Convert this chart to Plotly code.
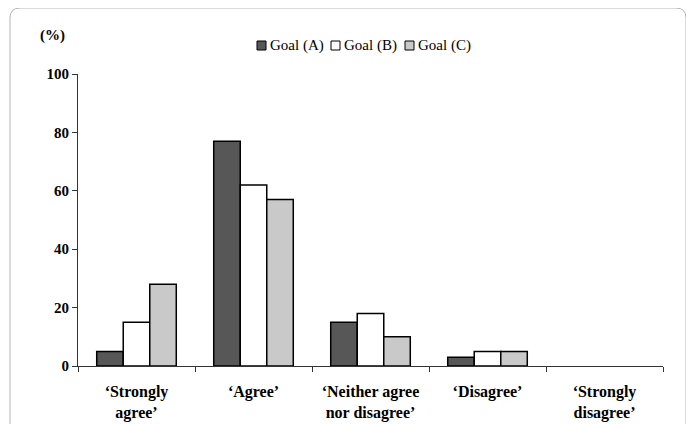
import plotly.graph_objects as go

categories = ["‘Strongly<br>agree’", "‘Agree’", "‘Neither agree<br>nor disagree’", "‘Disagree’", "‘Strongly<br>disagree’"]
series_names = ["Goal (A)", "Goal (B)", "Goal (C)"]
goal_a = [5, 77, 15, 3, 0]
goal_b = [15, 62, 18, 5, 0]
goal_c = [28, 57, 10, 5, 0]
y_ticks = [0, 20, 40, 60, 80, 100]

colors = ["#575757", "#ffffff", "#c9c9c9"]
FONT = "Liberation Serif"

# page offset (body margin) compensation
OX, OY = 8, 8
W, H = 694, 424
# plot area in window pixels
PX0, PX1, PY0, PY1 = 78, 663, 74, 366
L, R = PX0 - OX, W - (PX1 - OX)
T, B = PY0 - OY, H - (PY1 - OY)
PW, PH = PX1 - PX0, PY1 - PY0


def px(x):
    return (x - PX0) / PW


def py(y):
    return (PY1 - y) / PH


fig = go.Figure()
for name, vals, col in zip(series_names, [goal_a, goal_b, goal_c], colors):
    fig.add_trace(go.Bar(x=categories, y=vals, name=name, showlegend=False,
                         marker=dict(color=col, line=dict(color="#000000",
                                     width=[1.5 if v > 0 else 0 for v in vals]))))

fig.update_layout(
    width=W, height=H,
    margin=dict(l=L, r=R, t=T, b=B, autoexpand=False),
    paper_bgcolor="white", plot_bgcolor="white",
    barmode="group", bargap=0.32, bargroupgap=0,
    font=dict(family=FONT, color="#000000"),
    showlegend=False,
    xaxis=dict(showline=True, linecolor="#333333", linewidth=1, ticks="outside",
               tickson="boundaries", ticklen=5, tickcolor="#333333", automargin=False,
               ticklabelstandoff=11,
               tickvals=categories, ticktext=["<b>" + c + "</b>" for c in categories],
               tickfont=dict(family=FONT, size=16, color="#000000"), showgrid=False),
    yaxis=dict(range=[0, 100], tickvals=y_ticks, ticktext=["<b>%d</b>" % v for v in y_ticks],
               showline=True, linecolor="#333333", automargin=False,
               linewidth=1, ticks="outside", ticklen=5, tickcolor="#333333",
               tickfont=dict(family=FONT, size=15, color="#000000"), showgrid=False,
               zeroline=False),
)

fig.add_annotation(text="<b>(%)</b>", xref="paper", yref="paper", x=px(67), y=py(35),
                   xanchor="right", yanchor="middle", showarrow=False,
                   font=dict(family=FONT, size=15, color="#000000"))

# manual legend (small square swatches next to text)
sw_x = [257, 331, 405]
for name, col, sx in zip(series_names, colors, sw_x):
    fig.add_shape(type="rect", xref="paper", yref="paper",
                  x0=px(sx), x1=px(sx + 9), y0=py(50), y1=py(41),
                  fillcolor=col, line=dict(color="#000000", width=1))
    fig.add_annotation(text=name, xref="paper", yref="paper", x=px(sx + 11), y=py(45.5),
                       xanchor="left", yanchor="middle", showarrow=False,
                       font=dict(family=FONT, size=15, color="#000000"))

# rounded frame around the figure
x0, x1 = px(10), px(686)
y0, y1 = py(440), py(8)
rx, ry = 10 / PW, 10 / PH
path = (f"M {x0+rx},{y1} L {x1-rx},{y1} Q {x1},{y1} {x1},{y1-ry} "
        f"L {x1},{y0} M {x0},{y0} L {x0},{y1-ry} Q {x0},{y1} {x0+rx},{y1}")
fig.add_shape(type="path", path=path, xref="paper", yref="paper",
              line=dict(color="#b5b5b5", width=1))

fig.write_html("out.html")
